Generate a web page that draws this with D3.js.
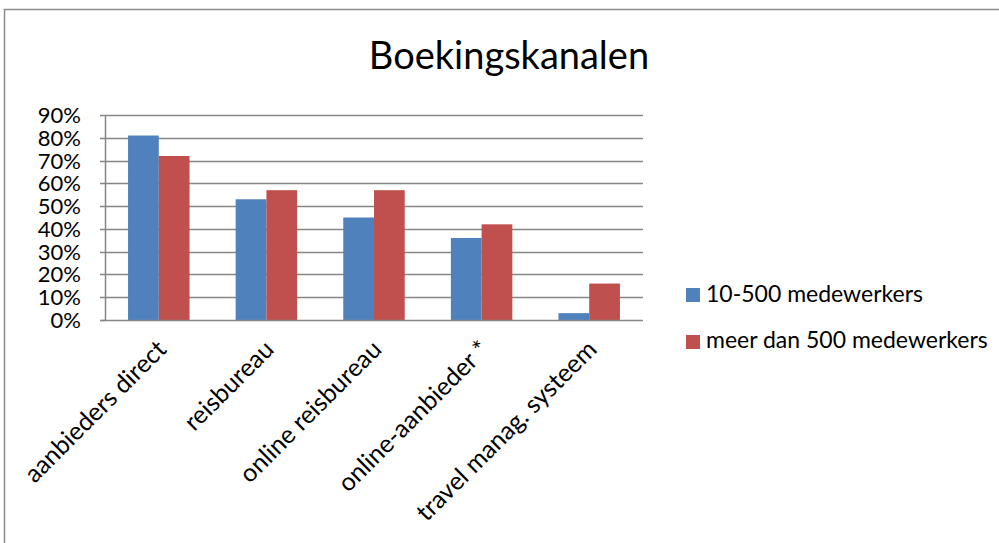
<!DOCTYPE html>
<html>
<head>
<meta charset="utf-8">
<script src="https://cdn.jsdelivr.net/npm/d3@7"></script>
<style>
  body { margin: 0; background: #fff; }
  svg { display: block; font-family: Lato, "Open Sans", sans-serif; }
</style>
</head>
<body>
<svg id="chart" width="999" height="543"></svg>
<script>
var categories = ["aanbieders direct", "reisbureau", "online reisbureau", "online-aanbieder *", "travel manag. systeem"]
var seriesNames = ["10-500 medewerkers", "meer dan 500 medewerkers"]
var small = [0.81, 0.53, 0.45, 0.36, 0.03]
var large = [0.72, 0.57, 0.57, 0.42, 0.16]
var yTicks = [0, 0.1, 0.2, 0.3, 0.4, 0.5, 0.6, 0.7, 0.8, 0.9]
var colors = ["#4F81BD", "#C0504D"]

var svg = d3.select("#chart")
var plot = {left: 105, top: 115, right: 643, bottom: 320}

// outer chart frame (runs off the right and bottom edge)
svg.append("rect")
  .attr("x", 4.5).attr("y", 9.5)
  .attr("width", 1100).attr("height", 600)
  .attr("fill", "#fff")
  .attr("stroke", "#8c8c8c")
  .attr("stroke-width", 1.5)

svg.append("text")
  .attr("x", 509).attr("y", 69)
  .attr("text-anchor", "middle")
  .style("font-size", "38px")
  .text("Boekingskanalen")

var x = d3.scaleBand().domain(categories).range([plot.left, plot.right])
// Excel style gap width 150%: two bars of width w, 1.5w gap
var gap = x.bandwidth() * 0.75 / 3.5
var x1 = d3.scaleBand().domain([0, 1]).range([gap, x.bandwidth() - gap])
var y = d3.scaleLinear().domain([0, 0.9]).range([plot.bottom, plot.top])

var g = svg.append("g")

g.selectAll(".grid")
  .data(yTicks.slice(1))
  .enter().append("line")
  .attr("class", "grid")
  .attr("x1", plot.left).attr("x2", plot.right)
  .attr("y1", function(d){ return Math.round(y(d)) + 0.5 })
  .attr("y2", function(d){ return Math.round(y(d)) + 0.5 })
  .attr("stroke", "#868686")
  .attr("stroke-width", 1.5)

var data = categories.map(function(c, i){ return {cat: c, vals: [small[i], large[i]]} })

g.selectAll(".grp")
  .data(data)
  .enter().append("g")
  .attr("transform", function(d){ return "translate(" + x(d.cat) + ",0)" })
  .selectAll("rect")
  .data(function(d){ return d.vals })
  .enter().append("rect")
  .attr("x", function(d, i){ return x1(i) })
  .attr("width", x1.bandwidth())
  .attr("y", function(d){ return y(d) })
  .attr("height", function(d){ return y(0) - y(d) })
  .attr("fill", function(d, i){ return colors[i] })

// axes
g.append("line")
  .attr("x1", plot.left + 0.5).attr("x2", plot.left + 0.5)
  .attr("y1", plot.top).attr("y2", plot.bottom)
  .attr("stroke", "#868686").attr("stroke-width", 1.5)
g.append("line")
  .attr("x1", plot.left - 4).attr("x2", plot.right)
  .attr("y1", plot.bottom + 0.5).attr("y2", plot.bottom + 0.5)
  .attr("stroke", "#868686").attr("stroke-width", 1.5)

g.selectAll(".ytick")
  .data(yTicks)
  .enter().append("line")
  .attr("x1", plot.left - 5).attr("x2", plot.left)
  .attr("y1", function(d){ return Math.round(y(d)) + 0.5 })
  .attr("y2", function(d){ return Math.round(y(d)) + 0.5 })
  .attr("stroke", "#868686").attr("stroke-width", 1.5)

g.selectAll(".ylab")
  .data(yTicks)
  .enter().append("text")
  .attr("x", 81)
  .attr("y", function(d){ return y(d) + 8 })
  .attr("text-anchor", "end")
  .style("font-size", "22px")
  .text(d3.format(".0%"))

g.selectAll(".xlab")
  .data(categories)
  .enter().append("text")
  .attr("text-anchor", "end")
  .attr("transform", function(d){
    return "translate(" + (x(d) + x.bandwidth() / 2 + 9) + "," + (plot.bottom + 31) + ") rotate(-45)"
  })
  .style("font-size", "25px")
  .text(function(d){ return d })

var legend = svg.append("g")
legend.selectAll("rect")
  .data(seriesNames)
  .enter().append("rect")
  .attr("x", 686)
  .attr("y", function(d, i){ return 288 + i * 47 })
  .attr("width", 14).attr("height", 14)
  .attr("fill", function(d, i){ return colors[i] })
legend.selectAll("text")
  .data(seriesNames)
  .enter().append("text")
  .attr("x", 706)
  .attr("y", function(d, i){ return 302 + i * 46 })
  .style("font-size", "23px")
  .text(function(d){ return d })
</script>
</body>
</html>
